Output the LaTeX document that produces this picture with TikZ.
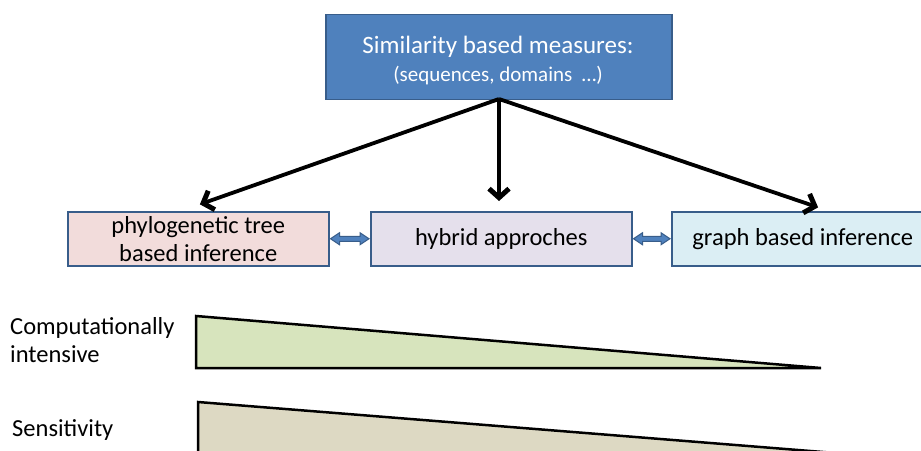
\documentclass[tikz,border=0pt]{standalone}
\usepackage{fontspec}
\setmainfont{Carlito}
\usetikzlibrary{arrows.meta,calc}
\definecolor{topblue}{HTML}{4F81BD}
\definecolor{edgeblue}{HTML}{385D8A}
\definecolor{pinkfill}{HTML}{F2DCDB}
\definecolor{lilacfill}{HTML}{E5E0EC}
\definecolor{cyanfill}{HTML}{DBEEF4}
\definecolor{greenfill}{HTML}{D7E4BD}
\definecolor{tanfill}{HTML}{DDD9C3}
\begin{document}
\begin{tikzpicture}[x=1pt,y=-1pt,
  midbox/.style={draw=edgeblue, line width=1.5pt, minimum height=54pt, inner sep=0pt, align=center, font=\fontsize{24.5}{28}\selectfont, anchor=north west},
  bigarrow/.style={-{Straight Barb[length=9pt,width=20pt,line width=5pt]}, line width=3.8pt, black, shorten >=2pt},
  dblfill/.style={fill=topblue, draw=edgeblue, line width=1pt, line join=miter},
  wedge/.style={draw=black, line width=2.5pt, line join=miter},
  toptxt/.style={text=white, inner sep=0pt, anchor=base}]
\useasboundingbox (0,0) rectangle (921,450);
\node[draw=edgeblue, fill=topblue, line width=1.5pt, minimum width=346pt, minimum height=85pt, inner sep=0pt, anchor=north west] (top) at (325,13.5) {};
\node[toptxt, font=\fontsize{25}{28}\selectfont] (toptext1) at (498,53) {Similarity based measures:};
\node[toptxt, font=\fontsize{21}{28}\selectfont] (toptext2) at (498,81) {(sequences, domains \ …)};
\node[midbox, fill=pinkfill, minimum width=261pt] (phy) at (67,211) {phylogenetic tree\\based inference};
\node[midbox, fill=lilacfill, minimum width=261pt] (hyb) at (370,211) {hybrid approches};
\node[midbox, fill=cyanfill, minimum width=262pt] (gra) at (671,211) {graph based inference};
\coordinate (src) at (499,99);
\coordinate (tipl) at (198,205);
\coordinate (tipm) at (499,203);
\coordinate (tipr) at (820,208);
\draw[bigarrow] (src) -- (tipl);
\draw[bigarrow] (src) -- (tipm);
\draw[bigarrow] (src) -- (tipr);
\filldraw[dblfill] let \p1=(phy.east), \p2=(hyb.west) in
  (\x1+1pt,\y1) -- (\x1+10pt,\y1+6pt) -- (\x1+10pt,\y1+2.5pt) -- (\x2-10pt,\y1+2.5pt) -- (\x2-10pt,\y1+6pt) -- (\x2-1pt,\y1)
  -- (\x2-10pt,\y1-6pt) -- (\x2-10pt,\y1-2.5pt) -- (\x1+10pt,\y1-2.5pt) -- (\x1+10pt,\y1-6pt) -- cycle;
\filldraw[dblfill] let \p1=(hyb.east), \p2=(gra.west) in
  (\x1+1pt,\y1) -- (\x1+10pt,\y1+6pt) -- (\x1+10pt,\y1+2.5pt) -- (\x2-10pt,\y1+2.5pt) -- (\x2-10pt,\y1+6pt) -- (\x2-1pt,\y1)
  -- (\x2-10pt,\y1-6pt) -- (\x2-10pt,\y1-2.5pt) -- (\x1+10pt,\y1-2.5pt) -- (\x1+10pt,\y1-6pt) -- cycle;
\begin{scope}
\clip (0,0) rectangle (921,450);
\draw[wedge, fill=greenfill] (196,316) -- (196,368) -- (821,368) -- cycle;
\draw[wedge, fill=tanfill] (198,402) -- (198,470) -- (1048,470) -- cycle;
\end{scope}
\node[anchor=west, align=left, inner sep=0pt, font=\fontsize{24.5}{28}\selectfont] (comp) at (10,340) {Computationally\\intensive};
\node[anchor=west, inner sep=0pt, font=\fontsize{24.5}{28}\selectfont] (sens) at (12,430) {Sensitivity};
\end{tikzpicture}
\end{document}
